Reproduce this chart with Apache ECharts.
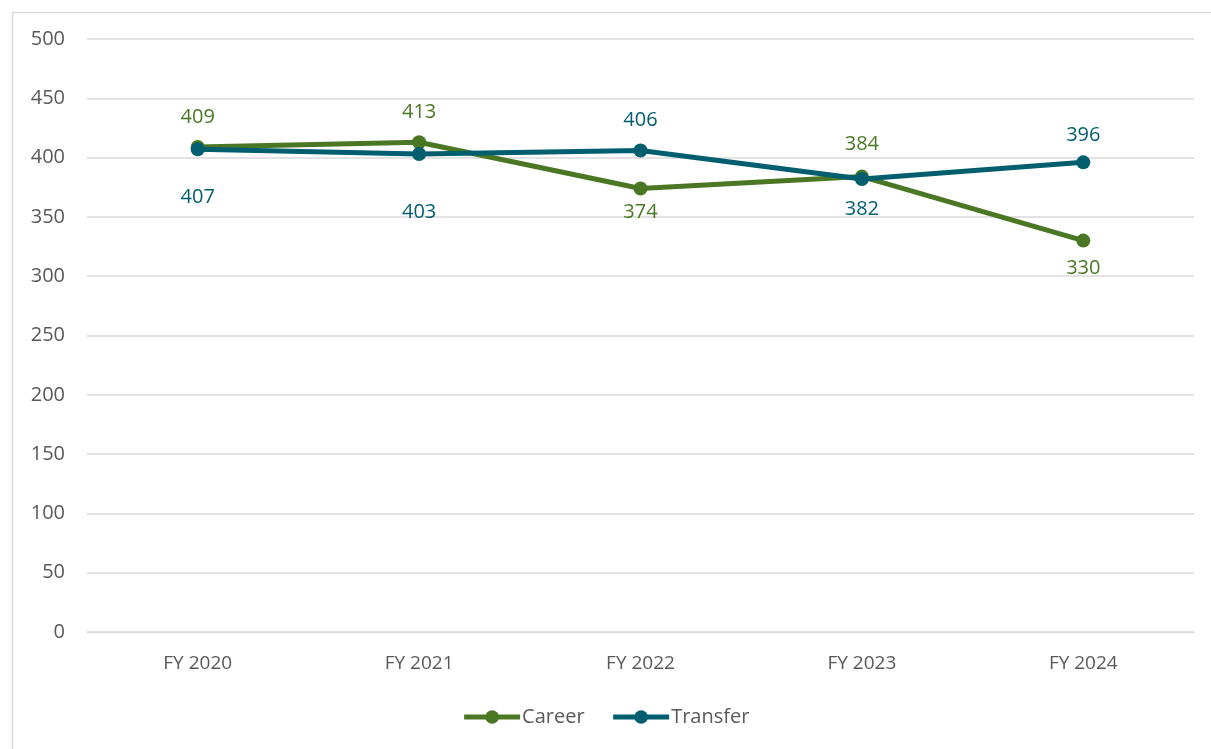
<!DOCTYPE html>
<html>
<head>
<meta charset="utf-8">
<script src="https://cdn.jsdelivr.net/npm/echarts@6/dist/echarts.min.js"></script>
<style>
html,body{margin:0;padding:0;background:#fff;}
#chart{width:1211px;height:749px;}
</style>
</head>
<body>
<div id="chart"></div>
<script>
const categories = ['FY 2020', 'FY 2021', 'FY 2022', 'FY 2023', 'FY 2024'];
const careerValues = [409, 413, 374, 384, 330];
const transferValues = [407, 403, 406, 382, 396];
const careerLabelPos = ['top', 'top', 'bottom', 'top', 'bottom'];
const transferLabelPos = ['bottom', 'bottom', 'top', 'bottom', 'top'];
const careerLabelShift = [0, 0, -6, 2, -2];
const transferLabelShift = [18, 28, 0, 0, -3];
const yTicks = [0, 50, 100, 150, 200, 250, 300, 350, 400, 450, 500];

const GREEN = '#4A7724';
const TEAL = '#005E6E';
const FONT = '"Open Sans", "Noto Sans", sans-serif';

function mk(vals, pos, shift) {
  return vals.map((v, i) => ({
    value: v,
    label: { position: pos[i], offset: [0, pos[i] === 'top' ? -shift[i] : shift[i]] }
  }));
}

const chart = echarts.init(document.getElementById('chart'));
chart.setOption({
  animation: false,
  textStyle: { fontFamily: FONT },
  graphic: [{
    type: 'rect', left: 10, top: 10,
    shape: { width: 1210, height: 750 },
    style: { fill: 'none', stroke: '#d9d9d9', lineWidth: 1.5 },
    silent: true, z: -1
  }],
  grid: { left: 87, right: 17, top: 39, bottom: 117 },
  legend: {
    bottom: 17, left: 'center',
    itemWidth: 56, itemHeight: 17, itemGap: 26,
    lineStyle: { width: 5 },
    textStyle: { color: '#595959', fontSize: 20, fontFamily: FONT, padding: [0, 0, 0, -3] },
    data: ['Career', 'Transfer']
  },
  xAxis: {
    type: 'category', data: categories, boundaryGap: true,
    axisLine: { show: true, lineStyle: { color: '#d9d9d9', width: 1 } },
    axisTick: { show: false },
    axisLabel: { color: '#595959', fontSize: 19, margin: 22, fontFamily: FONT }
  },
  yAxis: {
    type: 'value', min: yTicks[0], max: yTicks[yTicks.length - 1], interval: 50,
    axisLine: { show: false }, axisTick: { show: false },
    splitLine: { lineStyle: { color: '#d9d9d9', width: 1.5 } },
    axisLabel: { color: '#595959', fontSize: 20, margin: 22, fontFamily: FONT }
  },
  series: [
    {
      name: 'Career', type: 'line', data: mk(careerValues, careerLabelPos, careerLabelShift),
      color: GREEN, lineStyle: { width: 5, color: GREEN },
      symbol: 'circle', symbolSize: 14, itemStyle: { color: GREEN },
      label: { show: true, color: GREEN, fontSize: 20, distance: 13, fontFamily: FONT },
      z: 2
    },
    {
      name: 'Transfer', type: 'line', data: mk(transferValues, transferLabelPos, transferLabelShift),
      color: TEAL, lineStyle: { width: 5, color: TEAL },
      symbol: 'circle', symbolSize: 14, itemStyle: { color: TEAL },
      label: { show: true, color: TEAL, fontSize: 20, distance: 13, fontFamily: FONT },
      z: 3
    }
  ]
});
</script>
</body>
</html>
